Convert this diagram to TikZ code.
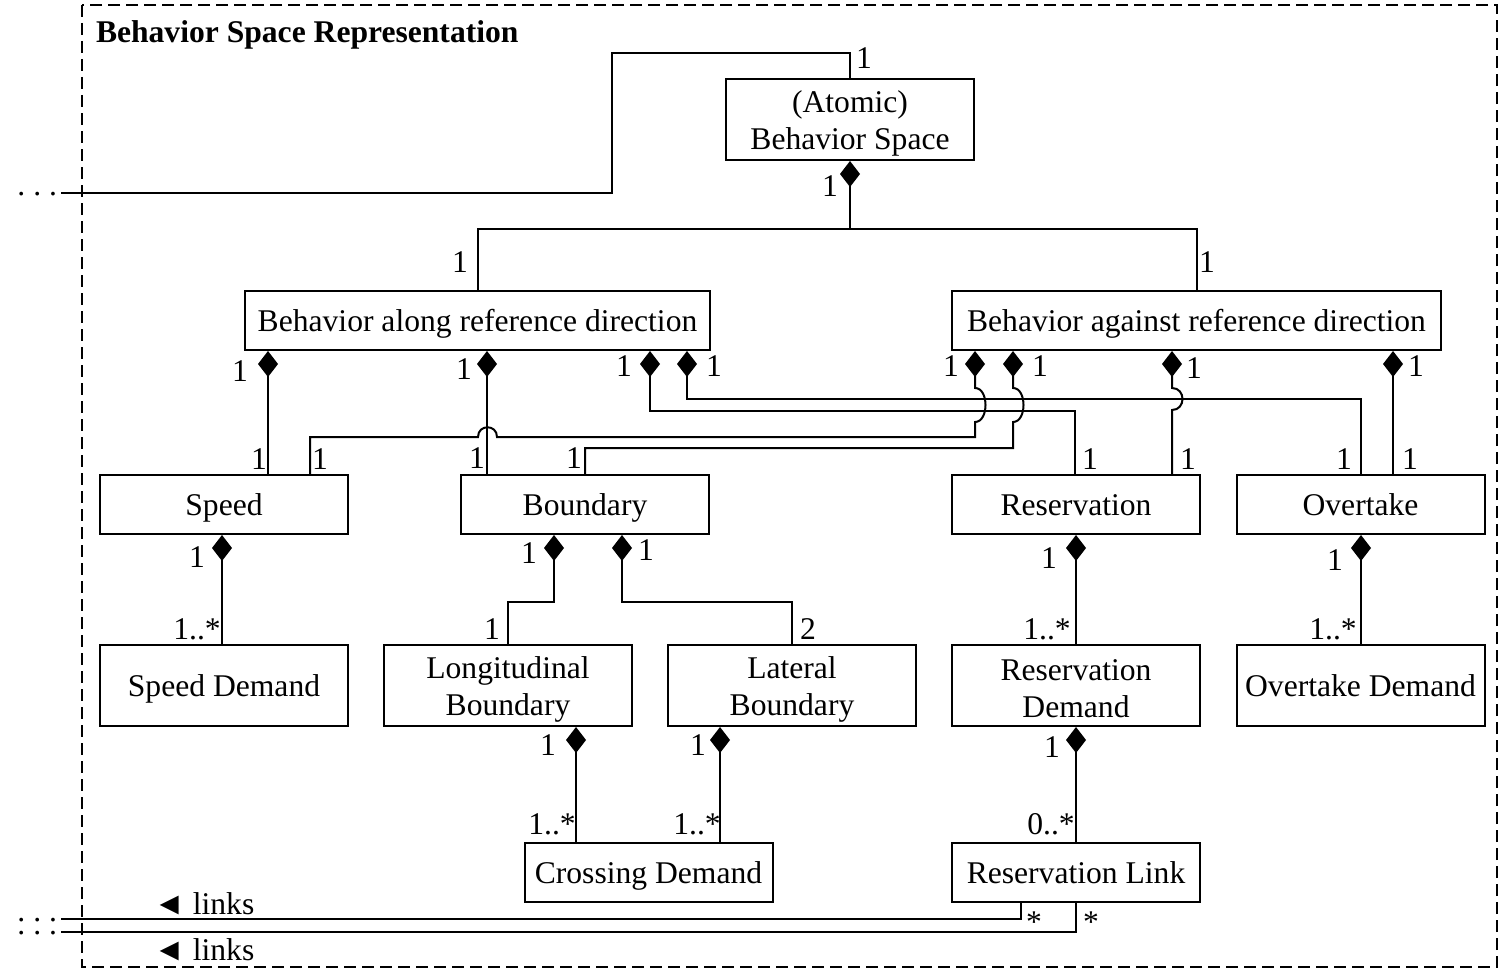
\documentclass[tikz,border=0pt]{standalone}
\usepackage{fontspec}
\setmainfont{Liberation Serif}
\usetikzlibrary{arrows.meta}
\begin{document}
\begin{tikzpicture}[x=0.5pt,y=-0.5pt, line width=1pt,
  every node/.style={font=\fontsize{15.8}{18.5}\selectfont},
  box/.style={draw, rectangle, inner sep=0pt, align=center, minimum width=124pt, minimum height=29.5pt,
    execute at begin node={\rule{0pt}{15pt}}, execute at end node={\rule[-4pt]{0pt}{0pt}}},
  tall/.style={minimum height=40.5pt},
  twoline/.style={draw, rectangle, inner sep=0pt, minimum width=124pt, minimum height=40.5pt,
    label={[inner sep=0pt, align=center, yshift=-1.75pt]center:#1}},
  comp/.style={{Diamond[fill=black,length=13pt,width=10pt]}-},
  lbl/.style={inner sep=0pt},
  frame/.style={line width=0.8pt, dash pattern=on 6pt off 3pt},
 ]
\useasboundingbox (0,0) rectangle (1502,974);
% frame
\draw[frame] (82,5) rectangle (1497,967);
\node[anchor=base west, inner sep=0pt, font=\fontsize{15.8}{18}\selectfont\bfseries] (title) at (95,43) {Behavior Space Representation};

% boxes
\node[twoline={(Atomic)\\Behavior Space}] (atomic) at (850,119.5) {};
\node[box, minimum width=232.5pt] (along) at (477.5,320.5) {Behavior along reference direction};
\node[box, minimum width=244.5pt] (against) at (1196.5,320.5) {Behavior against reference direction};
\node[box] (speed) at (224,504.5) {Speed};
\node[box] (boundary) at (585,504.5) {Boundary};
\node[box] (reservation) at (1076,504.5) {Reservation};
\node[box] (overtake) at (1360.5,504.5) {Overtake};
\node[box, tall] (speeddemand) at (224,685.5) {Speed Demand};
\node[twoline={Longitudinal\\Boundary}] (longb) at (508,685.5) {};
\node[twoline={Lateral\\Boundary}] (latb) at (792,685.5) {};
\node[twoline={Reservation\\Demand}] (resdemand) at (1076,685.5) {};
\node[box, tall] (ovdemand) at (1360.5,685.5) {Overtake Demand};
\node[box] (crossing) at (648.5,872.5) {Crossing Demand};
\node[box] (reslink) at (1076,872.5) {Reservation Link};

% external ends
\coordinate (extTop) at (61,193);
\coordinate (extL1) at (61,919);
\coordinate (extL2) at (61,932);
\node[anchor=base west, inner sep=0pt] (dotsTop) at (16.5,195.5) {.\ .\ .};
\node[anchor=base west, inner sep=0pt, align=left, font=\fontsize{15.8}{6.5}\selectfont] (dotsL) at (16.5,934.5) {.\ .\ .\\.\ .\ .};

% atomic top link
\draw (atomic.north) |- (612,53) |- (extTop);
\node[lbl] (lAt) at (864,58) {1};

% atomic composition
\draw[comp] (atomic.south) -- (850,229) coordinate (jA);
\draw (along.north) |- (jA) -| (against.north);
\node[lbl] at (830,186) {1};
\node[lbl] at (460,262) {1};
\node[lbl] at (1207,262) {1};

% along -> speed
\draw[comp] (268,0 |- along.south) -- (268,0 |- speed.north);
\node[lbl] at (240,371) {1};
\node[lbl] at (259,459) {1};
% along -> boundary
\draw[comp] (487,0 |- along.south) -- (487,0 |- boundary.north);
\node[lbl] at (464,369) {1};
\node[lbl] at (477,458) {1};
% along -> reservation
\draw[comp] (650,0 |- along.south) |- (1075,411) -- (1075,0 |- reservation.north);
\node[lbl] at (624,366) {1};
\node[lbl] at (1090,459) {1};
% along -> overtake
\draw[comp] (687,0 |- along.south) |- (1361,399) -- (1361,0 |- overtake.north);
\node[lbl] at (714,366) {1};
\node[lbl] at (1344,459) {1};
% against -> speed
\draw[comp] (975,0 |- against.south) -- (975,388) .. controls (989,388) and (989,422) .. (975,422)
  -- (975,437) -- (497,437) .. controls (497,424) and (478,424) .. (478,437) -- (310,437) -- (310,0 |- speed.north);
\node[lbl] at (951,366) {1};
\node[lbl] at (320,459) {1};
% against -> boundary
\draw[comp] (1013,0 |- against.south) -- (1013,388) .. controls (1027,388) and (1027,422) .. (1013,422)
  -- (1013,448) -- (585,448) -- (585,0 |- boundary.north);
\node[lbl] at (1040,366) {1};
\node[lbl] at (574,458) {1};
% against -> reservation
\draw[comp] (1172,0 |- against.south) -- (1172,388) .. controls (1186,388) and (1186,410) .. (1172,410)
  -- (1172,0 |- reservation.north);
\node[lbl] at (1194,368) {1};
\node[lbl] at (1188,459) {1};
% against -> overtake
\draw[comp] (1393,0 |- against.south) -- (1393,0 |- overtake.north);
\node[lbl] at (1416,366) {1};
\node[lbl] at (1410,459) {1};

% speed -> speed demand
\draw[comp] (222,0 |- speed.south) -- (222,0 |- speeddemand.north);
\node[lbl] at (197,557) {1};
\node[lbl] at (197,629) {1..*};
% boundary -> longitudinal
\draw[comp] (554,0 |- boundary.south) |- (508,602) -- (longb.north);
\node[lbl] at (529,553) {1};
\node[lbl] at (492,629) {1};
% boundary -> lateral
\draw[comp] (622,0 |- boundary.south) |- (792,602) -- (latb.north);
\node[lbl] at (646,550) {1};
\node[lbl] at (808,629) {2};
% reservation -> reservation demand
\draw[comp] (reservation.south) -- (resdemand.north);
\node[lbl] at (1049,558) {1};
\node[lbl] at (1047,629) {1..*};
% overtake -> overtake demand
\draw[comp] (1361,0 |- overtake.south) -- (1361,0 |- ovdemand.north);
\node[lbl] at (1335,560) {1};
\node[lbl] at (1333,629) {1..*};
% longitudinal -> crossing
\draw[comp] (576,0 |- longb.south) -- (576,0 |- crossing.north);
\node[lbl] at (548,745) {1};
\node[lbl] at (552,824) {1..*};
% lateral -> crossing
\draw[comp] (720,0 |- latb.south) -- (720,0 |- crossing.north);
\node[lbl] at (698,745) {1};
\node[lbl] at (697,824) {1..*};
% reservation demand -> reservation link
\draw[comp] (resdemand.south) -- (reslink.north);
\node[lbl] at (1052,747) {1};
\node[lbl] at (1051,824) {0..*};

% links
\draw (1021,0 |- reslink.south) |- (extL1);
\draw (1076,0 |- reslink.south) |- (extL2);
\node[lbl] at (1034,922) {*};
\node[lbl] at (1091,922) {*};
\node[lbl] (links1) at (204,904) {◄ links};
\node[lbl] (links2) at (204,950) {◄ links};
\end{tikzpicture}
\end{document}
